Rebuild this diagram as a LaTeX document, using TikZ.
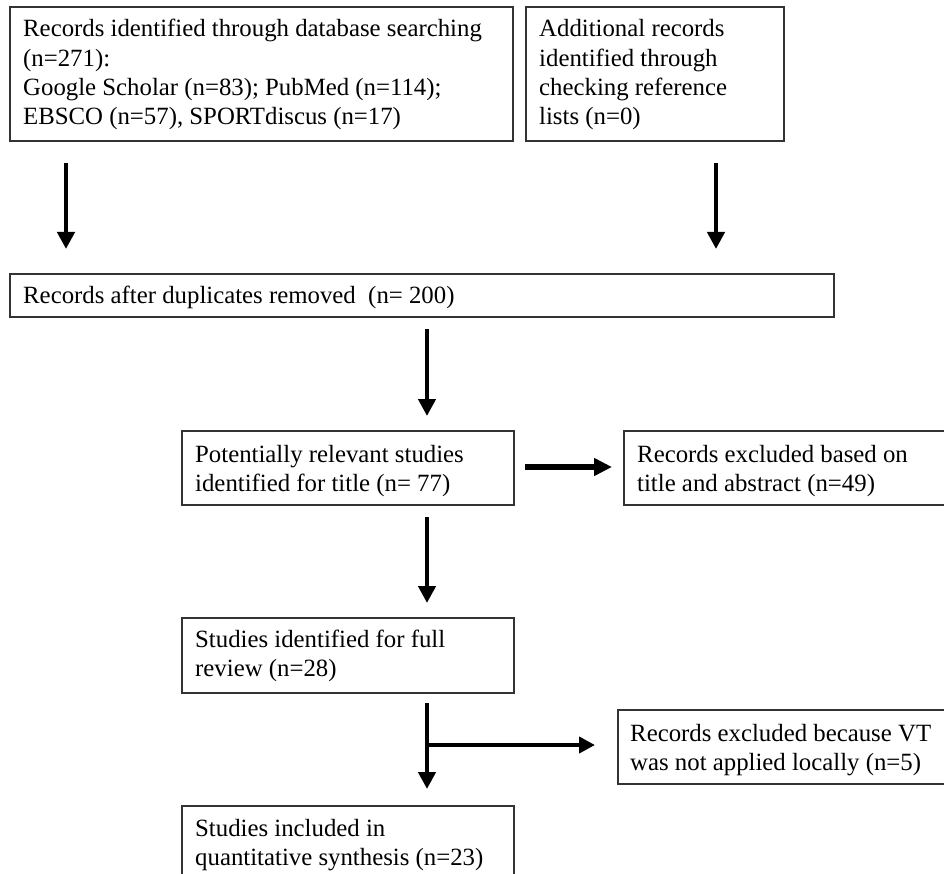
\documentclass[tikz,border=0pt]{standalone}
\usepackage{fontspec}
\setmainfont{Liberation Serif}
\usetikzlibrary{arrows.meta,calc}
\begin{document}
\begin{tikzpicture}[x=1pt,y=-1pt,
  box/.style={draw=black!80,line width=1.7pt,rectangle,inner sep=0pt,anchor=north west},
  txt/.style={inner sep=0pt,anchor=base west,font=\fontsize{24.8}{29.3}\selectfont},
  arr/.style={line width=4.8pt,-{Triangle[length=17pt,width=17pt]}},
  harr/.style={line width=6pt,-{Triangle[length=18pt,width=17pt]}}
]
\useasboundingbox (0,0) rectangle (944,874);
\clip (0,0) rectangle (944,874);
\fill[white] (0,0) rectangle (944,874);

% boxes
\node[box,minimum width=503pt,minimum height=134pt] (A) at (9,6) {};
\node[box,minimum width=258pt,minimum height=134pt] (B) at (525,6) {};
\node[box,minimum width=824pt,minimum height=43pt] (C) at (9,273) {};
\node[box,minimum width=332pt,minimum height=74pt] (D) at (181,430) {};
\node[box,minimum width=340pt,minimum height=74pt] (E) at (623,430) {};
\node[box,minimum width=332pt,minimum height=75pt] (F) at (181,617) {};
\node[box,minimum width=340pt,minimum height=74pt] (G) at (617,709) {};
\node[box,minimum width=332pt,minimum height=100pt] (H) at (181,805) {};

% texts
\node[txt] (tA) at (23,37) {\begin{tabular}[t]{@{}l@{}}Records identified through database searching\\(n=271):\\Google Scholar (n=83); PubMed (n=114);\\EBSCO (n=57), SPORTdiscus (n=17)\end{tabular}};
\node[txt] (tB) at (539,37) {\begin{tabular}[t]{@{}l@{}}Additional records\\identified through\\checking reference\\lists (n=0)\end{tabular}};
\node[txt] (tC) at (23,304) {Records after duplicates removed\ \ (n=\ 200)};
\node[txt] (tD) at (195,462) {\begin{tabular}[t]{@{}l@{}}Potentially relevant studies\\identified for title (n=\ 77)\end{tabular}};
\node[txt] (tE) at (637,462) {\begin{tabular}[t]{@{}l@{}}Records excluded based on\\title and abstract (n=49)\end{tabular}};
\node[txt] (tF) at (195,647) {\begin{tabular}[t]{@{}l@{}}Studies identified for full\\review (n=28)\end{tabular}};
\node[txt] (tG) at (630,741) {\begin{tabular}[t]{@{}l@{}}Records excluded because VT\\was not applied locally (n=5)\end{tabular}};
\node[txt] (tH) at (195,836) {\begin{tabular}[t]{@{}l@{}}Studies included in\\quantitative synthesis (n=23)\end{tabular}};

% arrow ends
\coordinate (a1s) at (66,163);  \coordinate (a1e) at (66,249);
\coordinate (a2s) at (716,163); \coordinate (a2e) at (716,249);
\coordinate (a3s) at (427,329); \coordinate (a3e) at (427,416);
\coordinate (a4s) at (525,467); \coordinate (a4e) at (612,467);
\coordinate (a5s) at (427,517); \coordinate (a5e) at (427,603);
\coordinate (a6s) at (427,703); \coordinate (a6e) at (427,789);
\coordinate (b6s) at (427,745); \coordinate (b6e) at (595,745);

\draw[arr] (a1s) -- (a1e);
\draw[arr] (a2s) -- (a2e);
\draw[arr] (a3s) -- (a3e);
\draw[harr] (a4s) -- (a4e);
\draw[arr] (a5s) -- (a5e);
\draw[arr] (a6s) -- (a6e);
\draw[line width=4pt,-{Triangle[length=16pt,width=16pt]}] (b6s) -- (b6e);
\end{tikzpicture}
\end{document}
